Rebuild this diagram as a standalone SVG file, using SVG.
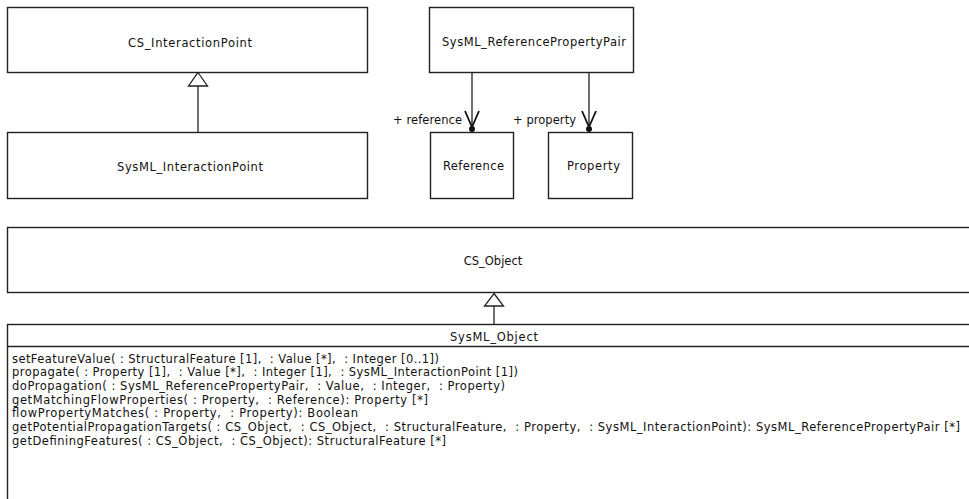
<svg xmlns="http://www.w3.org/2000/svg" width="969" height="499" viewBox="0 0 969 499">
<style>
.box{fill:#fff;stroke:#222;stroke-width:1.4}
.t{font-family:"DejaVu Sans","Noto Sans",sans-serif;font-size:11.5px;fill:#111;white-space:pre}
.c{text-anchor:middle}
.ln{stroke:#222;stroke-width:1.3;fill:none}
.gen{fill:#fff;stroke:#222;stroke-width:1.3}
.open{fill:none;stroke:#111;stroke-width:1.8}
</style>
<rect width="969" height="499" fill="#fff"/>
<g id="connectors">
<line class="ln" x1="198" y1="86" x2="198" y2="132"/>
<path class="gen" d="M198,72.5 L207.5,86 L188.5,86 Z"/>
<line class="ln" x1="494" y1="306" x2="494" y2="324"/>
<path class="gen" d="M494,293.5 L503.5,306 L484.5,306 Z"/>
<line class="ln" x1="472" y1="72" x2="472" y2="132"/>
<path class="open" d="M465,111 L472,127 L479,111"/>
<circle cx="472" cy="129" r="3" fill="#111"/>
<line class="ln" x1="589" y1="72" x2="589" y2="132"/>
<path class="open" d="M582,111 L589,127 L596,111"/>
<circle cx="589" cy="129" r="3" fill="#111"/>
<text class="t" x="393" y="124" textLength="69" lengthAdjust="spacing">+ reference</text>
<text class="t" x="513" y="124" textLength="63" lengthAdjust="spacing">+ property</text>
</g>
<g id="CS_InteractionPoint">
<rect class="box" x="7.5" y="7.5" width="360" height="65"/>
<text class="t" x="128" y="47" textLength="124" lengthAdjust="spacing">CS_InteractionPoint</text>
</g>
<g id="SysML_InteractionPoint">
<rect class="box" x="7.5" y="132.5" width="360" height="66"/>
<text class="t" x="117" y="171" textLength="146" lengthAdjust="spacing">SysML_InteractionPoint</text>
</g>
<g id="SysML_ReferencePropertyPair">
<rect class="box" x="429.5" y="7.5" width="204" height="65"/>
<text class="t" x="442" y="46" textLength="184" lengthAdjust="spacing">SysML_ReferencePropertyPair</text>
</g>
<g id="Reference">
<rect class="box" x="430.5" y="132.5" width="83" height="66"/>
<text class="t" x="443" y="170" textLength="61" lengthAdjust="spacing">Reference</text>
</g>
<g id="Property">
<rect class="box" x="548.5" y="132.5" width="84" height="66"/>
<text class="t" x="567" y="170" textLength="53" lengthAdjust="spacing">Property</text>
</g>
<g id="CS_Object">
<rect class="box" x="7.5" y="227.5" width="980" height="65"/>
<text class="t c" x="493" y="265">CS_Object</text>
</g>
<g id="SysML_Object">
<rect class="box" x="7.5" y="324.5" width="980" height="190"/>
<line class="ln" x1="7.5" y1="346.5" x2="975" y2="346.5"/>
<text class="t" x="450" y="341" textLength="88" lengthAdjust="spacing">SysML_Object</text>
<text class="t" x="12" y="362.5" textLength="427" lengthAdjust="spacing">setFeatureValue( : StructuralFeature [1],  : Value [*],  : Integer [0..1])</text>
<text class="t" x="12" y="376.2" textLength="506" lengthAdjust="spacing">propagate( : Property [1],  : Value [*],  : Integer [1],  : SysML_InteractionPoint [1])</text>
<text class="t" x="12" y="389.9" textLength="493" lengthAdjust="spacing">doPropagation( : SysML_ReferencePropertyPair,  : Value,  : Integer,  : Property)</text>
<text class="t" x="12" y="403.6" textLength="416" lengthAdjust="spacing">getMatchingFlowProperties( : Property,  : Reference): Property [*]</text>
<text class="t" x="12" y="417.3" textLength="346" lengthAdjust="spacing">flowPropertyMatches( : Property,  : Property): Boolean</text>
<text class="t" x="12" y="431" textLength="948" lengthAdjust="spacing">getPotentialPropagationTargets( : CS_Object,  : CS_Object,  : StructuralFeature,  : Property,  : SysML_InteractionPoint): SysML_ReferencePropertyPair [*]</text>
<text class="t" x="12" y="444.7" textLength="434" lengthAdjust="spacing">getDefiningFeatures( : CS_Object,  : CS_Object): StructuralFeature [*]</text>
</g>
</svg>
